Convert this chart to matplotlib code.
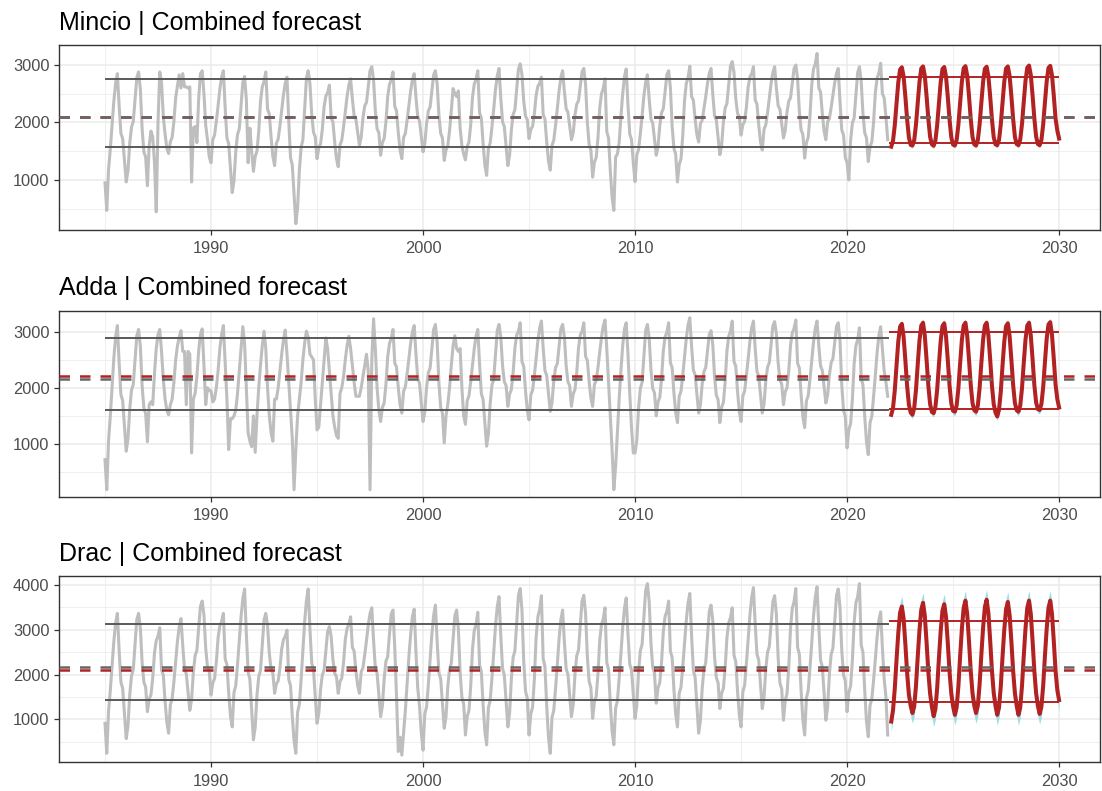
import matplotlib
matplotlib.use('Agg')
import matplotlib.pyplot as plt
import numpy as np

plt.rcParams['font.family'] = ['Liberation Sans', 'DejaVu Sans']

# ── data (monthly, one row per year, Jan..Dec) ─────────────────
rivers = ['Mincio', 'Adda', 'Drac']
hist_start = 1985
fc_start = 2022

mincio_hist = [
    [950, 470, 1180, 1540, 1950, 2370, 2680, 2850, 2290, 1810, 1720, 1340],
    [965, 1160, 1640, 1920, 2020, 2400, 2780, 2880, 2580, 1890, 1490, 1400],
    [900, 1600, 1850, 1750, 1300, 445, 2000, 2880, 2700, 2100, 1800, 1550],
    [1460, 1670, 1740, 2020, 2430, 2640, 2830, 2600, 2850, 2620, 2620, 2600],
    [2620, 965, 1900, 1930, 1650, 2400, 2850, 2900, 2500, 1950, 1700, 1400],
    [1300, 1700, 1780, 2020, 2290, 2580, 2790, 2900, 2260, 1730, 1630, 1200],
    [780, 980, 1490, 1790, 1890, 2300, 2700, 2800, 2400, 1300, 1900, 1500],
    [1150, 1410, 1500, 1840, 2360, 2620, 2710, 2880, 2230, 2150, 1740, 1410],
    [1250, 1640, 1710, 1940, 2210, 2480, 2680, 2790, 2030, 1390, 1260, 750],
    [240, 510, 1170, 1570, 1700, 2240, 2770, 2900, 2670, 2140, 1830, 1750],
    [1370, 1560, 1630, 1880, 2270, 2460, 2520, 2650, 2080, 2010, 1660, 1370],
    [1230, 1610, 1690, 1920, 2180, 2450, 2650, 2760, 2410, 2120, 2060, 1830],
    [1600, 1740, 2080, 2290, 2350, 2630, 2900, 2970, 2740, 2200, 1890, 1820],
    [1430, 1650, 1720, 2010, 2450, 2660, 2740, 2880, 2280, 2200, 1820, 1520],
    [1370, 1740, 1810, 2040, 2290, 2550, 2750, 2850, 2440, 2100, 2030, 1760],
    [1490, 1630, 1980, 2200, 2270, 2550, 2830, 2900, 2670, 2120, 1810, 1730],
    [1340, 1520, 1600, 1850, 2200, 2590, 2500, 2450, 2550, 1900, 1600, 1450],
    [1350, 1580, 1660, 1970, 2440, 2670, 2750, 2900, 2170, 2080, 1630, 1260],
    [1080, 1550, 1640, 1920, 2230, 2570, 2810, 2940, 2430, 2010, 1930, 1590],
    [1250, 1430, 1870, 2140, 2220, 2580, 2930, 3020, 2830, 2370, 2110, 2050],
    [1720, 1880, 1930, 2150, 2470, 2630, 2680, 2790, 2140, 2060, 1660, 1330],
    [1170, 1600, 1690, 1950, 2240, 2550, 2780, 2900, 2540, 2240, 2180, 1940],
    [1700, 1820, 2130, 2320, 2380, 2630, 2880, 2940, 2660, 2000, 1620, 1520],
    [1050, 1310, 1390, 1730, 2250, 2500, 2590, 2760, 1840, 1730, 1160, 700],
    [470, 1400, 1450, 1650, 2100, 2500, 2800, 2930, 2300, 1800, 1700, 1300],
    [970, 1440, 1530, 1810, 2120, 2460, 2700, 2830, 2410, 2060, 1990, 1710],
    [1430, 1580, 1950, 2170, 2240, 2530, 2830, 2900, 2610, 1930, 1550, 1450],
    [965, 1270, 1370, 1770, 2380, 2680, 2780, 2980, 2450, 2390, 2060, 1790],
    [1660, 1980, 2040, 2240, 2450, 2680, 2850, 2940, 2490, 2120, 2040, 1740],
    [1440, 1600, 2010, 2250, 2330, 2660, 2980, 3060, 2870, 2420, 2160, 2100],
    [1780, 1960, 2020, 2260, 2610, 2790, 2850, 2970, 2390, 2320, 1960, 1670],
    [1520, 1880, 1960, 2170, 2420, 2680, 2870, 2970, 2600, 2290, 2230, 1980],
    [1730, 1860, 2180, 2370, 2430, 2680, 2940, 3000, 2760, 2190, 1870, 1790],
    [1380, 1650, 1740, 2110, 2650, 2930, 3020, 3200, 2600, 2530, 2150, 1850],
    [1700, 2010, 2070, 2260, 2470, 2690, 2850, 2940, 2360, 1870, 1780, 1390],
    [1300, 1000, 1690, 1990, 2080, 2480, 2870, 2970, 2720, 2150, 1820, 1730],
    [1320, 1580, 1660, 2000, 2520, 2770, 2860, 3030, 2500, 2430, 2100, 1700],
]

adda_hist = [
    [720, 185, 1060, 1500, 2000, 2530, 2910, 3110, 2440, 1880, 1770, 1320],
    [870, 1090, 1630, 1960, 2060, 2500, 2930, 3040, 2740, 2040, 1640, 1540],
    [1040, 1700, 1750, 1700, 2250, 2700, 2950, 3040, 2640, 2150, 1800, 1600],
    [1520, 1700, 1800, 2100, 2500, 2750, 2900, 3020, 2650, 2650, 1700, 2650],
    [2600, 840, 1800, 1900, 2200, 2650, 2950, 3050, 2400, 1700, 2000, 1950],
    [1950, 1750, 1800, 2000, 2300, 2700, 2950, 3110, 2450, 1800, 900, 1450],
    [1450, 1500, 1600, 1900, 2300, 2700, 3090, 2800, 2000, 1200, 1050, 950],
    [1500, 850, 1500, 2000, 2400, 2750, 3010, 2700, 2000, 1500, 1200, 1050],
    [1800, 1800, 2000, 2300, 2600, 2850, 3030, 2600, 2100, 1600, 1100, 185],
    [900, 1500, 1800, 2100, 2500, 2800, 3010, 2900, 2600, 2550, 2500, 1800],
    [1250, 1300, 1700, 2100, 2500, 2890, 2700, 2300, 1900, 1500, 1300, 1150],
    [1100, 1900, 2000, 2200, 2500, 2750, 2920, 2700, 2400, 2100, 1850, 1850],
    [1850, 2000, 2200, 2400, 2600, 2300, 185, 2500, 3230, 2700, 2000, 1600],
    [1400, 1650, 1730, 2060, 2550, 2790, 2880, 3040, 2440, 2370, 2000, 1700],
    [1550, 1940, 2020, 2250, 2520, 2800, 3000, 3110, 2600, 2170, 2080, 1740],
    [1400, 1570, 2010, 2270, 2350, 2700, 3040, 3130, 2810, 2080, 1650, 1550],
    [1020, 1500, 1700, 2000, 2400, 2750, 2930, 2700, 2650, 2700, 2000, 1500],
    [1350, 1770, 1860, 2110, 2400, 2700, 2920, 3040, 2420, 1900, 1790, 1380],
    [960, 1180, 1720, 2050, 2150, 2590, 3020, 3130, 2910, 2400, 2110, 2040],
    [1670, 1890, 1970, 2270, 2710, 2940, 3010, 3160, 2470, 2380, 1950, 1600],
    [1430, 1870, 1960, 2220, 2520, 2840, 3070, 3190, 2710, 2310, 2220, 1900],
    [1580, 1740, 2120, 2360, 2430, 2740, 3050, 3130, 2910, 2400, 2110, 2040],
    [1670, 1890, 1970, 2270, 2710, 2940, 3010, 3160, 2560, 2490, 2120, 1820],
    [1670, 2060, 2130, 2360, 2630, 2900, 3100, 3210, 2700, 2100, 1500, 900],
    [185, 600, 1200, 1800, 2300, 2750, 3050, 3160, 2600, 1900, 1300, 840],
    [840, 1070, 1640, 1990, 2100, 2560, 3020, 3130, 2890, 2320, 1990, 1910],
    [1500, 1750, 1830, 2160, 2660, 2910, 2990, 3160, 2450, 2360, 1910, 1560],
    [1380, 1850, 1940, 2220, 2540, 2880, 3120, 3250, 2740, 2320, 2230, 1890],
    [1550, 1700, 2070, 2290, 2360, 2650, 2950, 3020, 2770, 2200, 1870, 1790],
    [1380, 1650, 1740, 2100, 2650, 2920, 3010, 3190, 2470, 2390, 1940, 1580],
    [1400, 1850, 1940, 2210, 2510, 2830, 3070, 3190, 2700, 2290, 2210, 1880],
    [1550, 1710, 2120, 2370, 2450, 2770, 3100, 3180, 2960, 2440, 2140, 2070],
    [1700, 1930, 2000, 2300, 2760, 2980, 3060, 3210, 2440, 2350, 1870, 1480],
    [1290, 1770, 1860, 2150, 2470, 2810, 3060, 3190, 2750, 2390, 2310, 2020],
    [1730, 1870, 2230, 2450, 2520, 2800, 3090, 3160, 2830, 2050, 1600, 1490],
    [930, 1250, 1360, 1790, 2430, 2750, 2860, 3070, 2170, 2050, 1490, 1040],
    [810, 1380, 1490, 1840, 2220, 2630, 2930, 3090, 2700, 2300, 2100, 1850],
]

drac_hist = [
    [910, 240, 1180, 1650, 2180, 2740, 3150, 3365, 2530, 1830, 1690, 1130],
    [570, 850, 1550, 1970, 2110, 2670, 3230, 3365, 3040, 2270, 1830, 1720],
    [1170, 1450, 1550, 1920, 2480, 2760, 2860, 3045, 2100, 1990, 1400, 930],
    [690, 1330, 1460, 1840, 2280, 2740, 3070, 3250, 2640, 2120, 2020, 1610],
    [1200, 1440, 2050, 2420, 2540, 3030, 3520, 3640, 3330, 2590, 2170, 2070],
    [1540, 1810, 1910, 2270, 2820, 3090, 3180, 3365, 2350, 2220, 1590, 1080],
    [830, 1600, 1750, 2220, 2740, 3290, 3690, 3910, 2900, 2060, 1890, 1210],
    [540, 820, 1530, 1950, 2090, 2660, 3220, 3365, 3100, 2470, 2120, 2030],
    [1580, 1790, 1860, 2140, 2570, 2780, 2850, 2990, 1890, 1750, 1070, 520],
    [240, 1160, 1340, 1890, 2520, 3180, 3650, 3910, 3010, 2260, 2110, 1510],
    [910, 1130, 1670, 1990, 2100, 2530, 2960, 3070, 2850, 2330, 2030, 1950],
    [1580, 1840, 1920, 2260, 2780, 3030, 3120, 3290, 2610, 2520, 2090, 1750],
    [1580, 2060, 2150, 2440, 2760, 3110, 3360, 3490, 2760, 2150, 2030, 1550],
    [1060, 1300, 1900, 2300, 2400, 2900, 3350, 3440, 2600, 1500, 280, 600],
    [200, 700, 1200, 1800, 2400, 2900, 3300, 3460, 2500, 1700, 1300, 700],
    [310, 1120, 1280, 1770, 2320, 2900, 3320, 3550, 2730, 2040, 1900, 1350],
    [800, 1060, 1720, 2120, 2250, 2780, 3310, 3440, 3020, 2050, 1490, 1350],
    [650, 1060, 1200, 1750, 2570, 2980, 3120, 3390, 2210, 2060, 1320, 730],
    [430, 1260, 1420, 1920, 2480, 3080, 3510, 3740, 2870, 2140, 1990, 1410],
    [830, 1140, 1910, 2380, 2530, 3150, 3770, 3920, 3430, 2290, 1630, 1470],
    [650, 1120, 1270, 1890, 2830, 3290, 3450, 3760, 2350, 2180, 1300, 590],
    [240, 1040, 1200, 1680, 2220, 2800, 3220, 3440, 2730, 2130, 2010, 1540],
    [1060, 1330, 2010, 2420, 2550, 3090, 3640, 3770, 3360, 2400, 1850, 1710],
    [1020, 1390, 1510, 2010, 2750, 3120, 3240, 3490, 2270, 2110, 1350, 740],
    [430, 1250, 1410, 1910, 2460, 3050, 3480, 3710, 2900, 2230, 2100, 1560],
    [1020, 1320, 2070, 2530, 2680, 3280, 3880, 4030, 3630, 2700, 2160, 2030],
    [1360, 1700, 1820, 2270, 2960, 3300, 3410, 3640, 2520, 2380, 1670, 1110],
    [830, 1580, 1720, 2170, 2680, 3210, 3600, 3810, 2870, 2090, 1940, 1310],
    [690, 980, 1690, 2120, 2260, 2840, 3410, 3550, 3200, 2400, 1930, 1820],
    [1240, 1580, 1690, 2140, 2820, 3150, 3270, 3490, 2430, 2290, 1630, 1100],
    [830, 1610, 1760, 2230, 2760, 3320, 3720, 3940, 3130, 2460, 2320, 1780],
    [1240, 1490, 2120, 2500, 2630, 3130, 3630, 3760, 3340, 2370, 1810, 1680],
    [980, 1420, 1570, 2160, 3040, 3480, 3630, 3920, 2610, 2450, 1630, 980],
    [650, 1480, 1640, 2140, 2700, 3300, 3730, 3960, 3070, 2320, 2170, 1580],
    [980, 1270, 2010, 2450, 2590, 3180, 3760, 3910, 3500, 2540, 1990, 1860],
    [1170, 1600, 1740, 2310, 3170, 3600, 3740, 4030, 2660, 2490, 1640, 950],
    [610, 1310, 1450, 1870, 2340, 2840, 3210, 3400, 2600, 1900, 1500, 650],
]

# forecast, Feb 2022 .. Jan 2030 (one row per 12 months)
mincio_fc = [
    [1580, 1680, 1950, 2330, 2700, 2920, 2960, 2800, 2450, 2050, 1740, 1610],
    [1600, 1690, 1960, 2340, 2710, 2940, 2975, 2810, 2460, 2060, 1750, 1620],
    [1595, 1685, 1955, 2335, 2705, 2930, 2965, 2800, 2450, 2050, 1740, 1615],
    [1600, 1690, 1960, 2345, 2715, 2945, 2980, 2815, 2465, 2060, 1750, 1620],
    [1600, 1690, 1960, 2340, 2710, 2935, 2970, 2805, 2455, 2055, 1745, 1620],
    [1605, 1695, 1965, 2345, 2715, 2940, 2975, 2810, 2460, 2060, 1750, 1625],
    [1605, 1700, 1970, 2355, 2725, 2955, 2990, 2825, 2470, 2070, 1755, 1625],
    [1605, 1695, 1965, 2350, 2720, 2950, 2985, 2820, 2470, 2070, 1860, 1720],
]
adda_fc = [
    [1520, 1640, 1950, 2400, 2830, 3090, 3140, 2910, 2490, 2030, 1700, 1560],
    [1520, 1640, 1960, 2420, 2850, 3110, 3160, 2930, 2500, 2040, 1710, 1570],
    [1550, 1660, 1970, 2420, 2840, 3100, 3150, 2920, 2500, 2040, 1720, 1590],
    [1575, 1680, 1990, 2440, 2860, 3110, 3160, 2930, 2510, 2050, 1730, 1600],
    [1575, 1680, 1990, 2440, 2860, 3110, 3160, 2930, 2510, 2040, 1710, 1560],
    [1490, 1610, 1930, 2400, 2830, 3100, 3150, 2920, 2500, 2050, 1730, 1600],
    [1575, 1680, 1990, 2440, 2860, 3110, 3160, 2930, 2510, 2050, 1740, 1620],
    [1605, 1710, 2010, 2460, 2880, 3130, 3170, 2940, 2520, 2060, 1800, 1650],
]
drac_fc = [
    [950, 1200, 1680, 2330, 2930, 3380, 3520, 3250, 2680, 2030, 1550, 1300],
    [1140, 1290, 1740, 2400, 3000, 3450, 3600, 3310, 2720, 2060, 1570, 1280],
    [1070, 1230, 1700, 2370, 2980, 3430, 3570, 3290, 2710, 2060, 1570, 1290],
    [1100, 1260, 1730, 2410, 3030, 3490, 3650, 3350, 2750, 2080, 1580, 1300],
    [1140, 1300, 1770, 2440, 3050, 3510, 3670, 3370, 2760, 2090, 1590, 1300],
    [1100, 1260, 1730, 2400, 3010, 3460, 3620, 3330, 2740, 2080, 1580, 1300],
    [1100, 1260, 1740, 2410, 3030, 3490, 3650, 3350, 2750, 2080, 1580, 1300],
    [1120, 1280, 1750, 2420, 3030, 3490, 3650, 3350, 2750, 2090, 1650, 1430],
]

fc_spread = [45, 70, 230]          # half width of forecast band
hist_hi   = [2760, 2895, 3125]
hist_lo   = [1575, 1600, 1440]
hist_mean = [2092, 2165, 2165]
fc_hi     = [2795, 2990, 3200]
fc_lo     = [1640, 1620, 1395]
fc_mean   = [2102, 2220, 2092]
y_limits  = [(130, 3348), (60, 3375), (40, 4200)]
y_ticks   = [[1000, 2000, 3000], [1000, 2000, 3000], [1000, 2000, 3000, 4000]]

hist_all = [mincio_hist, adda_hist, drac_hist]
fc_all = [mincio_fc, adda_fc, drac_fc]

# ── styling ───────────────────────────────────────────────────
W, H = 1102, 791
C_HIST = '#BEBEBE'
C_RED = '#B22222'
C_HL = '#595959'
C_BAND = '#9fdde6'
C_GRID = '#EBEBEB'
C_TXT = '#4D4D4D'
C_FRAME = '#333333'

fig = plt.figure(figsize=(W / 100, H / 100), dpi=100)
fig.patch.set_facecolor('white')

panel_px = [(45, 230), (310.7, 496.7), (576, 762.3)]
left_px, right_px = 59, 1100

for k, name in enumerate(rivers):
    top, bot = panel_px[k]
    ax = fig.add_axes([left_px / W, 1 - bot / H, (right_px - left_px) / W, (bot - top) / H])

    hist = np.array(hist_all[k]).ravel()
    fc = np.array(fc_all[k]).ravel()
    t_hist = hist_start + np.arange(len(hist)) / 12
    t_fc = fc_start + (np.arange(len(fc)) + 1) / 12

    ax.plot(t_hist, hist, color=C_HIST, lw=2.2, solid_joinstyle='round', zorder=2)
    ax.hlines([hist_hi[k], hist_lo[k]], hist_start, fc_start, color=C_HL, lw=1.4, zorder=3)

    ax.fill_between(t_fc, fc - fc_spread[k], fc + fc_spread[k], color=C_BAND, lw=0, zorder=3)
    ax.plot(t_fc, fc, color=C_RED, lw=2.9, solid_joinstyle='round', zorder=4)
    ax.hlines([fc_hi[k], fc_lo[k]], fc_start, 2030, color=C_RED, lw=1.4, zorder=5)

    ax.axhline(fc_mean[k], color=C_RED, lw=1.8, ls=(0, (4.2, 4.0)), zorder=6)
    ax.axhline(hist_mean[k], color='#666666', lw=1.8, ls=(0, (4.2, 4.0)), zorder=7)

    ax.set_xlim(1982.83, 2031.93)
    ax.set_xticks([1990, 2000, 2010, 2020, 2030])
    ax.set_xticks([1985, 1995, 2005, 2015, 2025], minor=True)
    ax.set_yticks(y_ticks[k])
    ax.set_yticks([v - 500 for v in y_ticks[k]] + [y_ticks[k][-1] + 500], minor=True)
    ax.set_ylim(*y_limits[k])

    ax.grid(which='major', color=C_GRID, lw=1.1, zorder=0)
    ax.grid(which='minor', color=C_GRID, lw=0.55, zorder=0)
    ax.set_axisbelow(True)
    for s in ax.spines.values():
        s.set_color(C_FRAME)
        s.set_linewidth(1.0)
    ax.tick_params(which='major', length=3.6, width=0.9, color=C_FRAME,
                   labelsize=11.8, labelcolor=C_TXT)
    ax.tick_params(axis='x', pad=4.5)
    ax.tick_params(axis='y', pad=3.3)
    ax.tick_params(which='minor', length=0)

    ax.set_title(f'{name} | Combined forecast', loc='left', fontsize=18,
                 color='black', pad=11)

fig.savefig('out.png', dpi=100, facecolor='white')
